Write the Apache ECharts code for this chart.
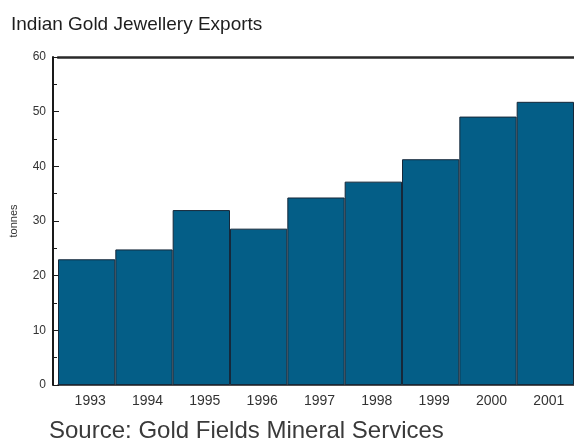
<!DOCTYPE html>
<html>
<head>
<meta charset="utf-8">
<script src="https://cdn.jsdelivr.net/npm/echarts@6/dist/echarts.min.js"></script>
<style>
  html, body { margin: 0; padding: 0; background: #ffffff; }
  #chart { width: 574px; height: 440px; }
</style>
</head>
<body>
<div id="chart"></div>
<script>
// Indian gold jewellery exports, tonnes per year
const years = ['1993', '1994', '1995', '1996', '1997', '1998', '1999', '2000', '2001'];
const tonnes = [23.0, 24.8, 32.0, 28.6, 34.3, 37.2, 41.3, 49.1, 51.8];
const yTicks = { min: 0, max: 60, interval: 10 };

const sans = "'Liberation Sans', Arial, sans-serif";
const chart = echarts.init(document.getElementById('chart'), null, { renderer: 'canvas' });

chart.setOption({
  animation: false,
  backgroundColor: '#ffffff',
  title: [
    {
      text: 'Indian Gold Jewellery Exports',
      left: 6, top: 10,
      textStyle: { fontFamily: sans, fontSize: 19, fontWeight: 'normal', color: '#1e1e1e' }
    },
    {
      text: 'Source: Gold Fields Mineral Services',
      left: 44, top: 414,
      textStyle: { fontFamily: sans, fontSize: 24, fontWeight: 'normal', color: '#3a3a3a' }
    }
  ],
  grid: { left: 55, right: -3, top: 57, bottom: 55, containLabel: false },
  xAxis: [
    {
      type: 'category',
      data: years,
      position: 'bottom',
      axisLine: { show: true, lineStyle: { color: '#1a1a1a', width: 1.5 } },
      axisTick: { show: false },
      axisLabel: { fontFamily: sans, fontSize: 14, color: '#333', margin: 9, padding: [0, 0, 0, 7] }
    },
    {
      type: 'category',
      data: years,
      position: 'top',
      axisLine: { show: true, lineStyle: { color: '#2a2a2a', width: 2.5 } },
      axisTick: { show: false },
      axisLabel: { show: false }
    }
  ],
  yAxis: {
    type: 'value',
    min: yTicks.min, max: yTicks.max, interval: yTicks.interval,
    offset: 5,
    name: 'tonnes',
    nameLocation: 'middle',
    nameGap: 34,
    nameTextStyle: { fontFamily: sans, fontSize: 11, color: '#333' },
    axisLine: { show: true, lineStyle: { color: '#1a1a1a', width: 2 } },
    axisTick: { show: true, inside: true, length: 6, lineStyle: { color: '#1a1a1a' } },
    minorTick: { show: true, splitNumber: 2, length: 4, lineStyle: { color: '#1a1a1a' } },
    splitLine: { show: false },
    axisLabel: { fontFamily: sans, fontSize: 12, color: '#333', margin: 7 }
  },
  series: [
    {
      type: 'bar',
      data: tonnes,
      barCategoryGap: 0,
      itemStyle: { color: '#045e87', borderColor: '#16283a', borderWidth: 1 }
    }
  ]
});
</script>
</body>
</html>
